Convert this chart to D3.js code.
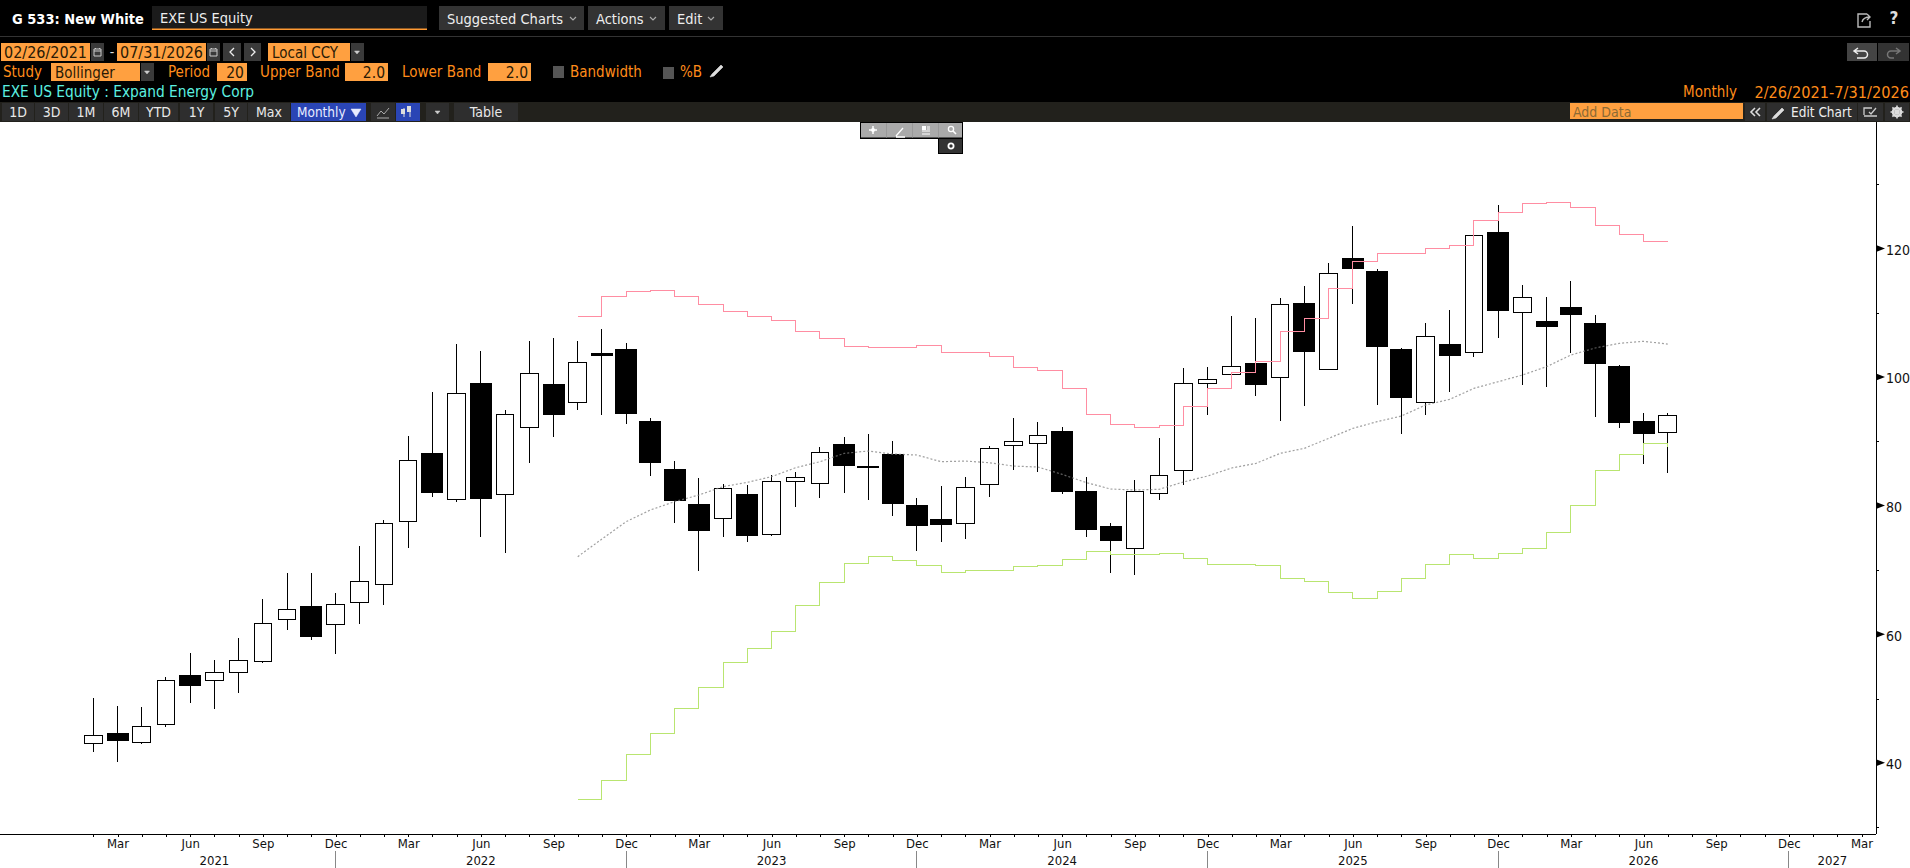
<!DOCTYPE html>
<html>
<head>
<meta charset="utf-8">
<script src="https://cdn.jsdelivr.net/npm/d3@7"></script>
<style>
  html, body { margin: 0; padding: 0; background: #000; overflow: hidden; }
  svg { display: block; }
  text { font-family: "DejaVu Sans Condensed", "DejaVu Sans", sans-serif; }
</style>
</head>
<body>
<div id="chart"></div>
<script>
// monthly candles, Feb 2021 to Jul 2026
const opens = [43.03,44.58,43.18,45.98,53.60,52.83,54.07,55.78,62.31,64.33,61.53,64.96,67.77,77.55,88.13,80.98,99.02,81.75,92.17,98.86,96.06,103.58,104.30,93.11,85.64,80.20,78.02,81.75,75.53,83.77,83.46,89.53,86.16,87.97,80.04,77.86,77.24,83.31,89.37,89.68,91.55,82.22,76.77,73.35,81.91,85.48,99.01,100.41,102.12,99.95,111.45,101.19,118.45,116.43,104.30,96.06,105.08,103.83,122.50,110.06,108.66,110.84,108.35,101.66,93.11,91.40];
const highs = [50.03,48.83,48.63,53.29,57.02,55.94,59.36,65.42,69.47,69.47,66.36,73.66,77.71,90.83,97.67,105.13,104.05,94.82,105.60,106.07,105.60,107.47,105.29,93.62,86.94,84.29,83.36,83.20,84.71,85.23,89.11,90.67,91.14,90.05,81.13,83.05,84.45,89.27,93.62,93.00,92.17,84.45,77.29,83.98,90.51,101.35,101.50,109.49,109.17,112.28,114.15,117.73,123.48,116.74,104.51,108.40,110.42,122.10,126.75,114.31,112.44,114.93,109.64,101.87,94.35,94.35];
const lows = [41.73,40.18,42.97,45.62,49.35,48.42,50.91,55.57,60.70,59.15,56.97,61.64,64.59,73.46,81.39,80.61,75.17,72.68,86.68,90.72,94.92,94.14,92.74,84.66,77.35,69.88,75.17,74.39,75.32,79.83,81.23,82.01,80.92,78.44,72.99,74.39,74.85,81.39,85.59,85.28,81.85,75.17,69.57,69.26,80.92,83.25,94.14,100.30,97.09,93.21,95.54,101.10,111.40,95.70,91.18,94.14,97.72,103.16,106.11,98.81,98.50,103.79,93.83,92.12,86.52,85.12];
const closes = [44.22,43.44,45.62,52.83,52.00,54.02,55.88,61.64,63.87,59.62,64.59,68.17,77.19,87.04,82.01,97.46,81.08,94.19,100.57,94.14,102.28,103.27,94.30,86.68,80.77,76.10,82.69,75.32,83.77,84.39,88.28,86.21,85.90,80.30,76.88,77.03,82.84,88.91,89.99,90.88,82.17,76.26,74.55,82.22,84.71,99.01,99.64,101.66,98.81,111.30,103.94,116.12,116.85,104.72,96.78,106.32,103.32,122.03,110.31,112.39,107.83,109.70,102.08,92.90,91.19,94.04];

// bollinger 20/2/2, first value belongs to Oct 2022
const upperBand = [109.44,112.55,113.33,113.48,112.55,111.31,110.22,109.44,108.81,107.10,106.02,104.77,104.61,104.61,104.92,103.84,103.84,103.21,101.50,101.04,98.24,94.19,92.64,92.17,92.48,95.44,98.24,100.72,102.43,107.10,109.12,113.79,117.99,119.23,119.23,120.01,120.47,124.36,125.61,127.01,127.16,126.39,123.59,122.19,121.10,121.21];
const midBand = [72.06,74.81,77.51,79.32,80.62,81.65,82.95,83.62,84.50,85.90,86.83,88.13,88.49,88.02,87.87,86.83,86.93,86.67,86.15,86.00,84.86,83.57,82.58,82.43,82.53,83.67,84.60,85.85,86.57,88.13,88.91,90.46,92.01,93.05,93.93,95.64,96.53,98.24,99.27,100.31,101.61,103.42,104.51,105.24,105.55,105.13];
const lowerBand = [34.32,37.27,41.32,44.58,48.47,51.74,55.63,57.80,60.45,64.49,68.07,71.02,72.11,71.49,70.71,69.62,69.93,69.93,70.55,70.71,71.64,72.89,72.42,72.42,72.57,71.80,70.87,70.87,70.71,68.69,68.22,66.51,65.58,66.67,68.69,70.86,72.42,71.80,72.58,73.35,75.84,80.04,85.49,87.98,89.69,89.06];
const bandStart = 20;

const yearLabels = ["2021","2022","2023","2024","2025","2026","2027"];
const yTicks = [30,40,50,60,70,80,90,100,110,120,130];
const monthNames = d3.timeFormat("%b");

const W = 1910, H = 868;
const plot = { top: 122, bottom: 834, right: 1876 };

const months = d3.timeMonths(new Date(2021, 1, 1), new Date(2027, 3, 1));
const xscale = d3.scalePoint().domain(d3.range(months.length)).range([93.3, 1861.5]);
const yscale = d3.scaleLinear().domain([28.93, 139.66]).range([plot.bottom, plot.top]);

const svg = d3.select("#chart").append("svg").attr("width", W).attr("height", H);

// small helpers for the terminal chrome
const box = (x, y, w, h, fill, parent) => (parent || svg).append("rect")
  .attr("x", x).attr("y", y).attr("width", w).attr("height", h).attr("fill", fill);
const label = (x, y, s, color, size, anchor, weight) => svg.append("text")
  .attr("x", x).attr("y", y).attr("fill", color).attr("font-size", size || 14)
  .attr("text-anchor", anchor || "start").attr("font-weight", weight || "normal")
  .attr("dominant-baseline", "central").text(s);
const button = (x, y, w, h, s, fill, color) => {
  box(x, y, w, h, fill || "#2e2e2e");
  if (s) label(x + w / 2, y + h / 2, s, color || "#e8e8e8", 14, "middle");
};
const icon = (x, y, d, color, width, fill) => svg.append("path")
  .attr("transform", `translate(${x},${y})`).attr("d", d)
  .attr("fill", fill || "none").attr("stroke", color).attr("stroke-width", width || 1.3);
const chev = (x, y, color) => icon(x, y, "M0,0L3,3L6,0", color || "#aaa", 1.2);

const ORANGE = "#ff8c1a", FIELD = "#ffa040", FIELDTXT = "#2a1a05";

// title row
box(0, 0, W, H, "#000");
label(12, 19, "G 533: New White", "#fff", 14.5, "start", "bold");
box(152, 6, 275, 24, "#1b1b1b");
box(152, 28.5, 275, 1.5, "#ff9a33");
label(160, 18, "EXE US Equity", "#eee", 14.5);
button(439, 6, 145, 24, "", "#333");
label(447, 19, "Suggested Charts", "#eee", 14.5);
chev(570, 17);
button(588, 6, 77, 24, "", "#333");
label(596, 19, "Actions", "#eee", 14.5);
chev(650, 17);
button(669, 6, 54, 24, "", "#333");
label(677, 19, "Edit", "#eee", 14.5);
chev(708, 17);
box(0, 36, W, 1, "#333");
icon(1855, 12, "M12,2H3V15H15V9M7,10C8,6 11,5 15,5M12,2L15,5L12,8", "#bbb", 1.4);
label(1894, 18, "?", "#ddd", 17, "middle", "bold");

// date row
const field = (x, y, w, s, anchor, size) => {
  box(x, y, w, 18, FIELD);
  if (anchor === "end") label(x + w - 3, y + 9.5, s, FIELDTXT, 15.5, "end");
  else label(x + (size ? 3 : 4), y + 9.5, s, FIELDTXT, size || 15);
};
const calendar = (x, y) => {
  box(x, y, 13, 18, "#3a3a3a");
  icon(x + 3, y + 5, "M0,1H7V8H0ZM0,3H7M1.5,0V1M5.5,0V1", "#ccc", 1);
};
field(1, 43, 89, "02/26/2021", "start", 16);
calendar(91, 43);
label(112, 52, "-", "#ddd", 14, "middle");
field(117, 43, 89, "07/31/2026", "start", 16);
calendar(207, 43);
box(223, 43, 18, 18, "#3a3a3a");
icon(234, 48, "M0,0L-4,4L0,8", "#eee", 1.3);
box(244, 43, 17, 18, "#3a3a3a");
icon(251, 48, "M0,0L4,4L0,8", "#eee", 1.3);
field(268, 43, 82, "Local CCY");
box(351, 43, 13, 18, "#3a3a3a");
icon(354.5, 51, "M0,0H5L2.5,3Z", "#ccc", 0.5, "#ccc");

// study row
label(3, 72, "Study", ORANGE, 15);
field(51, 63, 89, "Bollinger");
box(141, 63, 13, 18, "#3a3a3a");
icon(144.5, 71, "M0,0H5L2.5,3Z", "#ccc", 0.5, "#ccc");
label(168, 72, "Period", ORANGE, 15);
field(217, 63, 30, "20", "end");
label(260, 72, "Upper Band", ORANGE, 15);
field(345, 63, 43, "2.0", "end");
label(402, 72, "Lower Band", ORANGE, 15);
field(488, 63, 43, "2.0", "end");
box(553, 66, 11, 12, "#555");
label(570, 72, "Bandwidth", ORANGE, 15);
box(663, 67, 11, 12, "#555");
label(680, 72, "%B", ORANGE, 15);
icon(710, 76, "M2,-2L11,-11L13,-9L4,0L0,1Z", "#ddd", 0.6, "#ddd");

box(1847, 43, 30, 18, "#444");
icon(1854, 48, "M0,3H10A3.5,3.5 0 0 1 10,10H3M4,0L0,3L4,6", "#eee", 1.5);
box(1878, 43, 31, 18, "#333");
icon(1885, 48, "M15,3H6A3.5,3.5 0 0 0 6,10H9M11,0L15,3L11,6", "#777", 1.5);

// security row
label(2, 92, "EXE US Equity : Expand Energy Corp", "#5cf0e0", 15.3);
label(1683, 92, "Monthly", ORANGE, 15);
label(1909, 92, "2/26/2021-7/31/2026", ORANGE, 16.2, "end");

// range toolbar
box(0, 102, W, 20, "#22211c");
[["1D",2,32],["3D",35,33],["1M",69,34],["6M",104,34],["YTD",139,39],["1Y",180,33],["5Y",215,32],["Max",248,42]]
  .forEach(d => button(d[1], 103, d[2], 18, d[0]));
button(291, 103, 75, 18, "", "#2a45b5");
label(297, 112, "Monthly", "#e8ecff", 13.5);
icon(351, 109, "M0,0H10L5,8Z", "#e8ecff", 0.5, "#e8ecff");
button(371, 103, 24, 18);
icon(377, 108, "M0,8L4,3L7,6L12,0M0,10H12", "#aaa", 1);
button(396, 103, 24, 18, "", "#2a45b5");
icon(403, 108, "M1,0V9M7,0V9", "#ddd", 1);
box(401, 109, 4, 5, "#ddd"); box(407, 106, 4, 6, "#ddd");
button(426, 103, 23, 18);
icon(435, 111, "M0,0H5L2.5,3Z", "#ccc", 0.5, "#ccc");
button(454, 103, 64, 18, "Table");

box(1570, 103, 173, 16, FIELD);
label(1573, 111.5, "Add Data", "#8b6a35", 14);
button(1745, 103, 20, 18);
icon(1750, 108, "M5,0L1,4L5,8M10,0L6,4L10,8", "#ddd", 1.6);
button(1767, 103, 90, 18);
icon(1772, 118, "M2,-2L10,-10L12,-8L4,0L0,1Z", "#ddd", 0.6, "#ddd");
label(1791, 112, "Edit Chart", "#eee", 13.5);
button(1858, 103, 25, 18);
icon(1864, 107, "M0,8V1H8M0,9H13M5,5L7,7L12,1", "#ccc", 1.3);
button(1885, 103, 24, 18);
svg.append("circle").attr("cx", 1897).attr("cy", 112).attr("r", 4)
  .attr("fill", "none").attr("stroke", "#ddd").attr("stroke-width", 2.6);
icon(1897, 112, "M0,-6.5V6.5M-6.5,0H6.5M-4.6,-4.6L4.6,4.6M-4.6,4.6L4.6,-4.6", "#ddd", 1.6);

// chart area
box(0, plot.top, W, H - plot.top, "#fff");

const candles = svg.append("g").attr("class", "candles").attr("shape-rendering", "crispEdges");
const candle = candles.selectAll("g").data(opens).enter().append("g");

candle.append("line")
  .attr("x1", (d, i) => xscale(i)).attr("x2", (d, i) => xscale(i))
  .attr("y1", (d, i) => yscale(highs[i])).attr("y2", (d, i) => yscale(lows[i]))
  .attr("stroke", "#000").attr("stroke-width", 1);

candle.append("rect")
  .attr("x", (d, i) => xscale(i) - (closes[i] > d ? 8.75 : 10.5))
  .attr("width", (d, i) => closes[i] > d ? 17.5 : 21)
  .attr("y", (d, i) => yscale(Math.max(d, closes[i])))
  .attr("height", (d, i) => Math.abs(yscale(d) - yscale(closes[i])))
  .attr("fill", (d, i) => closes[i] > d ? "#fff" : "#000")
  .attr("stroke", "#000").attr("stroke-width", 1);

const bandLine = curve => d3.line()
  .x((d, i) => xscale(i + bandStart))
  .y(d => yscale(d))
  .curve(curve);

svg.append("path").datum(upperBand).attr("fill", "none").attr("stroke", "#ff8da2")
  .attr("stroke-width", 1).attr("shape-rendering", "crispEdges").attr("d", bandLine(d3.curveStepAfter));
svg.append("path").datum(lowerBand).attr("fill", "none").attr("stroke", "#b9e570")
  .attr("stroke-width", 1).attr("shape-rendering", "crispEdges").attr("d", bandLine(d3.curveStepAfter));
svg.append("path").datum(midBand).attr("fill", "none").attr("stroke", "#808080")
  .attr("stroke-width", 1.2).attr("stroke-dasharray", "2,2").attr("opacity", 0.75)
  .attr("d", bandLine(d3.curveLinear));

// x axis, every month ticked, quarter months labelled
const xAxis = d3.axisBottom(xscale)
  .tickSize(3).tickPadding(2)
  .tickFormat(i => months[i].getMonth() % 3 === 2 ? monthNames(months[i]) : "");
const gx = svg.append("g").attr("transform", `translate(0,${plot.bottom})`).call(xAxis);
gx.select(".domain").remove();
gx.selectAll("text").attr("font-family", null).attr("font-size", 13).attr("fill", "#111");
gx.selectAll("line").attr("stroke", "#000").attr("shape-rendering", "crispEdges");
gx.attr("font-family", null);

svg.append("line").attr("x1", 0).attr("x2", plot.right)
  .attr("y1", plot.bottom).attr("y2", plot.bottom)
  .attr("stroke", "#000").attr("shape-rendering", "crispEdges");

// year row, separators sit on each December
const yearEnds = months.map((d, i) => i).filter(i => months[i].getMonth() === 11);
svg.selectAll(".yearsep").data(yearEnds).enter().append("line")
  .attr("class", "yearsep")
  .attr("x1", d => xscale(d)).attr("x2", d => xscale(d))
  .attr("y1", 851).attr("y2", H)
  .attr("stroke", "#888").attr("shape-rendering", "crispEdges");
svg.selectAll(".yearlabel").data(yearLabels).enter().append("text")
  .attr("class", "yearlabel")
  .attr("x", (d, i) => {
    const from = i === 0 ? xscale(0) : xscale(yearEnds[i - 1]);
    const to = i < yearEnds.length ? xscale(yearEnds[i]) : plot.right;
    return (from + to) / 2;
  })
  .attr("y", 860).attr("text-anchor", "middle").attr("dominant-baseline", "central")
  .attr("font-size", 13).attr("fill", "#111").text(d => d);

// y axis on the right
const yAxis = d3.axisRight(yscale)
  .tickValues(yTicks).tickSize(3).tickPadding(7)
  .tickFormat(d => d % 20 === 0 ? d : "");
const gy = svg.append("g").attr("transform", `translate(${plot.right},0)`).call(yAxis);
gy.select(".domain").remove();
gy.attr("font-family", null);
gy.selectAll("text").attr("font-size", 14).attr("fill", "#111").attr("dy", "0.42em");
gy.selectAll("line").attr("stroke", "#000").attr("shape-rendering", "crispEdges");

svg.append("line").attr("x1", plot.right).attr("x2", plot.right)
  .attr("y1", plot.top).attr("y2", plot.bottom)
  .attr("stroke", "#000").attr("shape-rendering", "crispEdges");

svg.selectAll(".marker").data(yTicks.filter(d => d % 20 === 0)).enter().append("path")
  .attr("class", "marker")
  .attr("d", d => `M${plot.right},${yscale(d) - 3.5}L${plot.right + 9},${yscale(d)}L${plot.right},${yscale(d) + 3.5}Z`)
  .attr("fill", "#000");

// floating chart tools
box(860, 122, 103, 17, "#000");
box(861, 123, 101, 14.5, "#aaa");
[886, 912, 938].forEach(x => box(x, 123, 1, 14.5, "#999"));
icon(873, 130, "M0,-4V4M-4,0H4", "#fff", 1.5);
svg.append("circle").attr("cx", 873).attr("cy", 130).attr("r", 2).attr("fill", "#fff");
icon(896, 134, "M0,2L7,-6M0,3H9", "#fff", 1.3);
box(922, 126, 4, 4, "#fff");
icon(922, 131, "M0,0H8M0,3H8M5,-4H8M5,-2H8", "#fff", 1);
svg.append("circle").attr("cx", 951).attr("cy", 129).attr("r", 2.6)
  .attr("fill", "none").attr("stroke", "#fff").attr("stroke-width", 1.3);
icon(953, 131, "M0,0L3,3", "#fff", 1.6);
box(938, 138, 25, 16, "#000");
box(939, 139, 23, 14, "#333");
svg.append("circle").attr("cx", 951).attr("cy", 146).attr("r", 2.6)
  .attr("fill", "none").attr("stroke", "#fff").attr("stroke-width", 1.8);
</script>
</body>
</html>
